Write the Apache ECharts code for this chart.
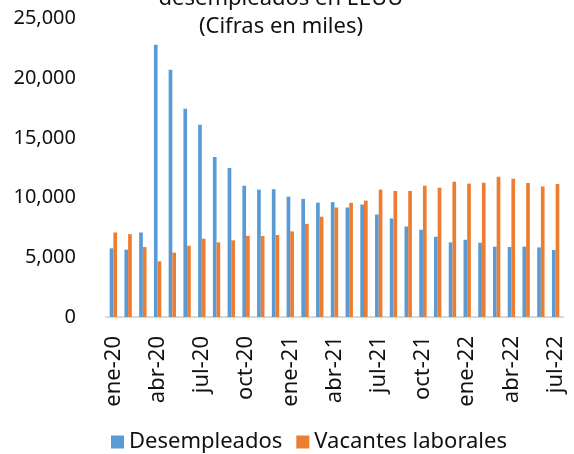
<!DOCTYPE html>
<html>
<head>
<meta charset="utf-8">
<script src="https://cdn.jsdelivr.net/npm/echarts@6/dist/echarts.min.js"></script>
<style>html,body{margin:0;padding:0;background:#fff}#c{width:574px;height:454px}</style>
</head>
<body>
<div id="c"></div>
<script>
var categories = ["ene-20","feb-20","mar-20","abr-20","may-20","jun-20","jul-20","ago-20","sep-20","oct-20","nov-20","dic-20",
"ene-21","feb-21","mar-21","abr-21","may-21","jun-21","jul-21","ago-21","sep-21","oct-21","nov-21","dic-21",
"ene-22","feb-22","mar-22","abr-22","may-22","jun-22","jul-22"];
var desempleados = [5750,5640,7080,22800,20700,17450,16100,13400,12470,11000,10670,10700,
10080,9890,9580,9620,9170,9420,8580,8250,7580,7310,6720,6250,
6470,6220,5890,5860,5890,5830,5610];
var vacantes = [7080,6940,5860,4670,5390,5970,6560,6250,6420,6800,6780,6860,
7170,7800,8400,9170,9560,9750,10670,10560,10560,11000,10830,11330,
11170,11250,11750,11580,11220,10940,11140];
var titleLines = ["desempleados en EEUU", "(Cifras en miles)"];
var seriesNames = ["Desempleados", "Vacantes laborales"];

var FONT = "'Noto Sans', 'Open Sans', sans-serif";
var chart = echarts.init(document.getElementById('c'));
chart.setOption({
  animation: false,
  title: {
    text: titleLines.join('\n'),
    left: 276, top: -20, textAlign: 'center',
    textStyle: {fontFamily: FONT, fontSize: 22, fontWeight: 'normal', color: '#111', lineHeight: 28}
  },
  grid: {left: 106, right: 11, top: 18.5, bottom: 137, containLabel: false},
  legend: {
    data: seriesNames, left: 106, top: 426, itemWidth: 13, itemHeight: 13, itemGap: 14, icon: 'rect',
    textStyle: {fontFamily: FONT, fontSize: 22, color: '#111'}
  },
  xAxis: {
    type: 'category', data: categories, boundaryGap: true,
    axisLine: {lineStyle: {color: '#d9d9d9', width: 2}},
    axisTick: {interval: 2, length: 8, lineStyle: {color: '#d9d9d9', width: 2}},
    axisLabel: {interval: 2, rotate: 90, margin: 19, fontFamily: FONT, fontSize: 22, color: '#111'}
  },
  yAxis: {
    type: 'value', min: 0, max: 25000, interval: 5000,
    splitLine: {show: false}, axisLine: {show: false}, axisTick: {show: false},
    axisLabel: {margin: 30, fontFamily: FONT, fontSize: 20, color: '#111',
      formatter: function(v){ return v.toLocaleString('en-US'); }}
  },
  series: [
    {name: seriesNames[0], type: 'bar', data: desempleados, barWidth: '25%', barGap: '0%', itemStyle: {color: '#5B9BD5'}},
    {name: seriesNames[1], type: 'bar', data: vacantes, barWidth: '25%', barGap: '0%', itemStyle: {color: '#ED7D31'}}
  ]
});
</script>
</body>
</html>
